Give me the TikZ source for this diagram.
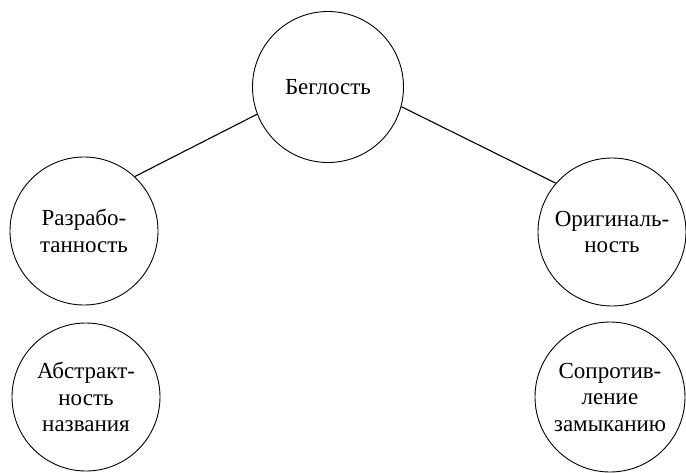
\documentclass[tikz,border=0pt]{standalone}
\usepackage{fontspec}
\setmainfont{Liberation Serif}
\newfontfamily\ideafont{Liberation Serif}
\begin{document}
\begin{tikzpicture}[x=1pt,y=-1pt,
  idea/.style={circle,draw,line width=0.9pt,inner sep=0pt,align=center,
    font=\ideafont\fontsize{23}{26.5}\selectfont},
  link/.style={line width=1.1pt}]
\useasboundingbox (0,0) rectangle (686,472);
% top idea
\node[idea,minimum size=151pt] (flu) at (328,87) {Беглость};
% second row
\node[idea,minimum size=148pt] (ela) at (84,231) {Разрабо-\\танность};
\node[idea,minimum size=148pt] (ori) at (612,232) {Оригиналь-\\ность};
% third row
\node[idea,minimum size=148pt] (abs) at (86,397) {Абстракт-\\ность\\названия};
\node[idea,minimum size=150pt] (res) at (610,397) {Сопротив-\\ление\\замыканию};
% connections
\draw[link] (flu.201) -- (ela.47);
\draw[link] (flu.-15) -- (ori.139);
\end{tikzpicture}
\end{document}
